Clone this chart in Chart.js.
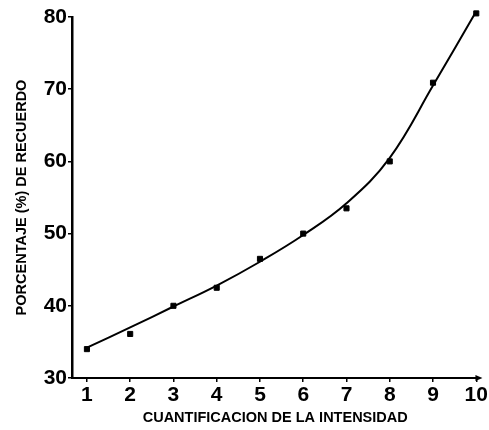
<!DOCTYPE html>
<html>
<head>
<meta charset="utf-8">
<script src="https://cdn.jsdelivr.net/npm/chart.js@4/dist/chart.umd.min.js"></script>
<style>
    html, body { margin: 0; padding: 0; background: #fff; }
    #wrap { width: 489px; height: 430px; }
</style>
</head>
<body>
<div id="wrap"><canvas id="chart" width="489" height="430"></canvas></div>
<script>
// Values
const intensity = [1, 2, 3, 4, 5, 6, 7, 8, 9, 10];
const recall = [34.0, 36.1, 40.0, 42.5, 46.5, 50.0, 53.5, 60.0, 70.9, 80.5];
// Fitted curve as drawn in the picture, read at each intensity
const fittedCurve = [34.2, 37.0, 39.9, 42.8, 46.1, 49.8, 54.2, 60.5, 70.5, 80.8];
const xTicks = [1, 2, 3, 4, 5, 6, 7, 8, 9, 10];
const yTicks = [30, 40, 50, 60, 70, 80];

const fontFamily = '"Liberation Sans", Arial, Helvetica, sans-serif';

// Small arrow head at the end of the x axis
const axisArrow = {
    id: 'axisArrow',
    afterDraw(chart) {
        const ctx = chart.ctx;
        const area = chart.chartArea;
        const y = area.bottom;
        const x = area.right + 1;
        ctx.save();
        ctx.fillStyle = '#000';
        ctx.beginPath();
        ctx.moveTo(x + 3, y);
        ctx.lineTo(x - 4, y - 3);
        ctx.lineTo(x - 4, y + 3);
        ctx.closePath();
        ctx.fill();
        ctx.restore();
    }
};

new Chart(document.getElementById('chart'), {
    type: 'scatter',
    data: {
        datasets: [
            {
                label: 'Curva',
                data: intensity.map((x, i) => ({ x: x, y: fittedCurve[i] })),
                showLine: true,
                borderColor: '#000',
                borderWidth: 2,
                pointRadius: 0,
                tension: 0.4,
                clip: false
            },
            {
                label: 'Recuerdo',
                data: intensity.map((x, i) => ({ x: x, y: recall[i] })),
                showLine: false,
                pointStyle: 'rect',
                pointRadius: 3.6,
                backgroundColor: '#000',
                borderColor: '#000',
                clip: false
            }
        ]
    },
    options: {
        responsive: false,
        animation: false,
        devicePixelRatio: 1,
        layout: { padding: { left: 0, top: 17, right: 9, bottom: 0 } },
        plugins: {
            legend: { display: false },
            tooltip: { enabled: false }
        },
        scales: {
            x: {
                type: 'linear',
                min: 0.655,
                max: 10.05,
                afterBuildTicks: scale => { scale.ticks = xTicks.map(v => ({ value: v })); },
                afterFit: scale => { scale.height = 52; },
                border: { display: true, color: '#000', width: 2 },
                grid: { drawOnChartArea: false, drawTicks: true, tickLength: 4, color: '#000', lineWidth: 1.5 },
                ticks: {
                    color: '#000',
                    padding: 1,
                    maxRotation: 0,
                    font: { family: fontFamily, size: 21, weight: 'bold' }
                },
                title: {
                    display: true,
                    text: 'CUANTIFICACION DE LA INTENSIDAD',
                    color: '#000',
                    padding: { top: 0, bottom: 3 },
                    font: { family: fontFamily, size: 14.5, weight: 'bold' }
                }
            },
            y: {
                min: 30,
                max: 80,
                afterBuildTicks: scale => { scale.ticks = yTicks.map(v => ({ value: v })); },
                afterFit: scale => { scale.width = 72; },
                border: { display: true, color: '#000', width: 2.5 },
                grid: { drawOnChartArea: false, drawTicks: true, tickLength: 4, color: '#000', lineWidth: 1.5 },
                ticks: {
                    color: '#000',
                    padding: 1,
                    font: { family: fontFamily, size: 21, weight: 'bold' }
                },
                title: {
                    display: true,
                    text: 'PORCENTAJE (%) DE RECUERDO',
                    color: '#000',
                    padding: { top: 13, bottom: 0 },
                    font: { family: fontFamily, size: 14.5, weight: 'bold' }
                }
            }
        }
    },
    plugins: [axisArrow]
});
</script>
</body>
</html>
